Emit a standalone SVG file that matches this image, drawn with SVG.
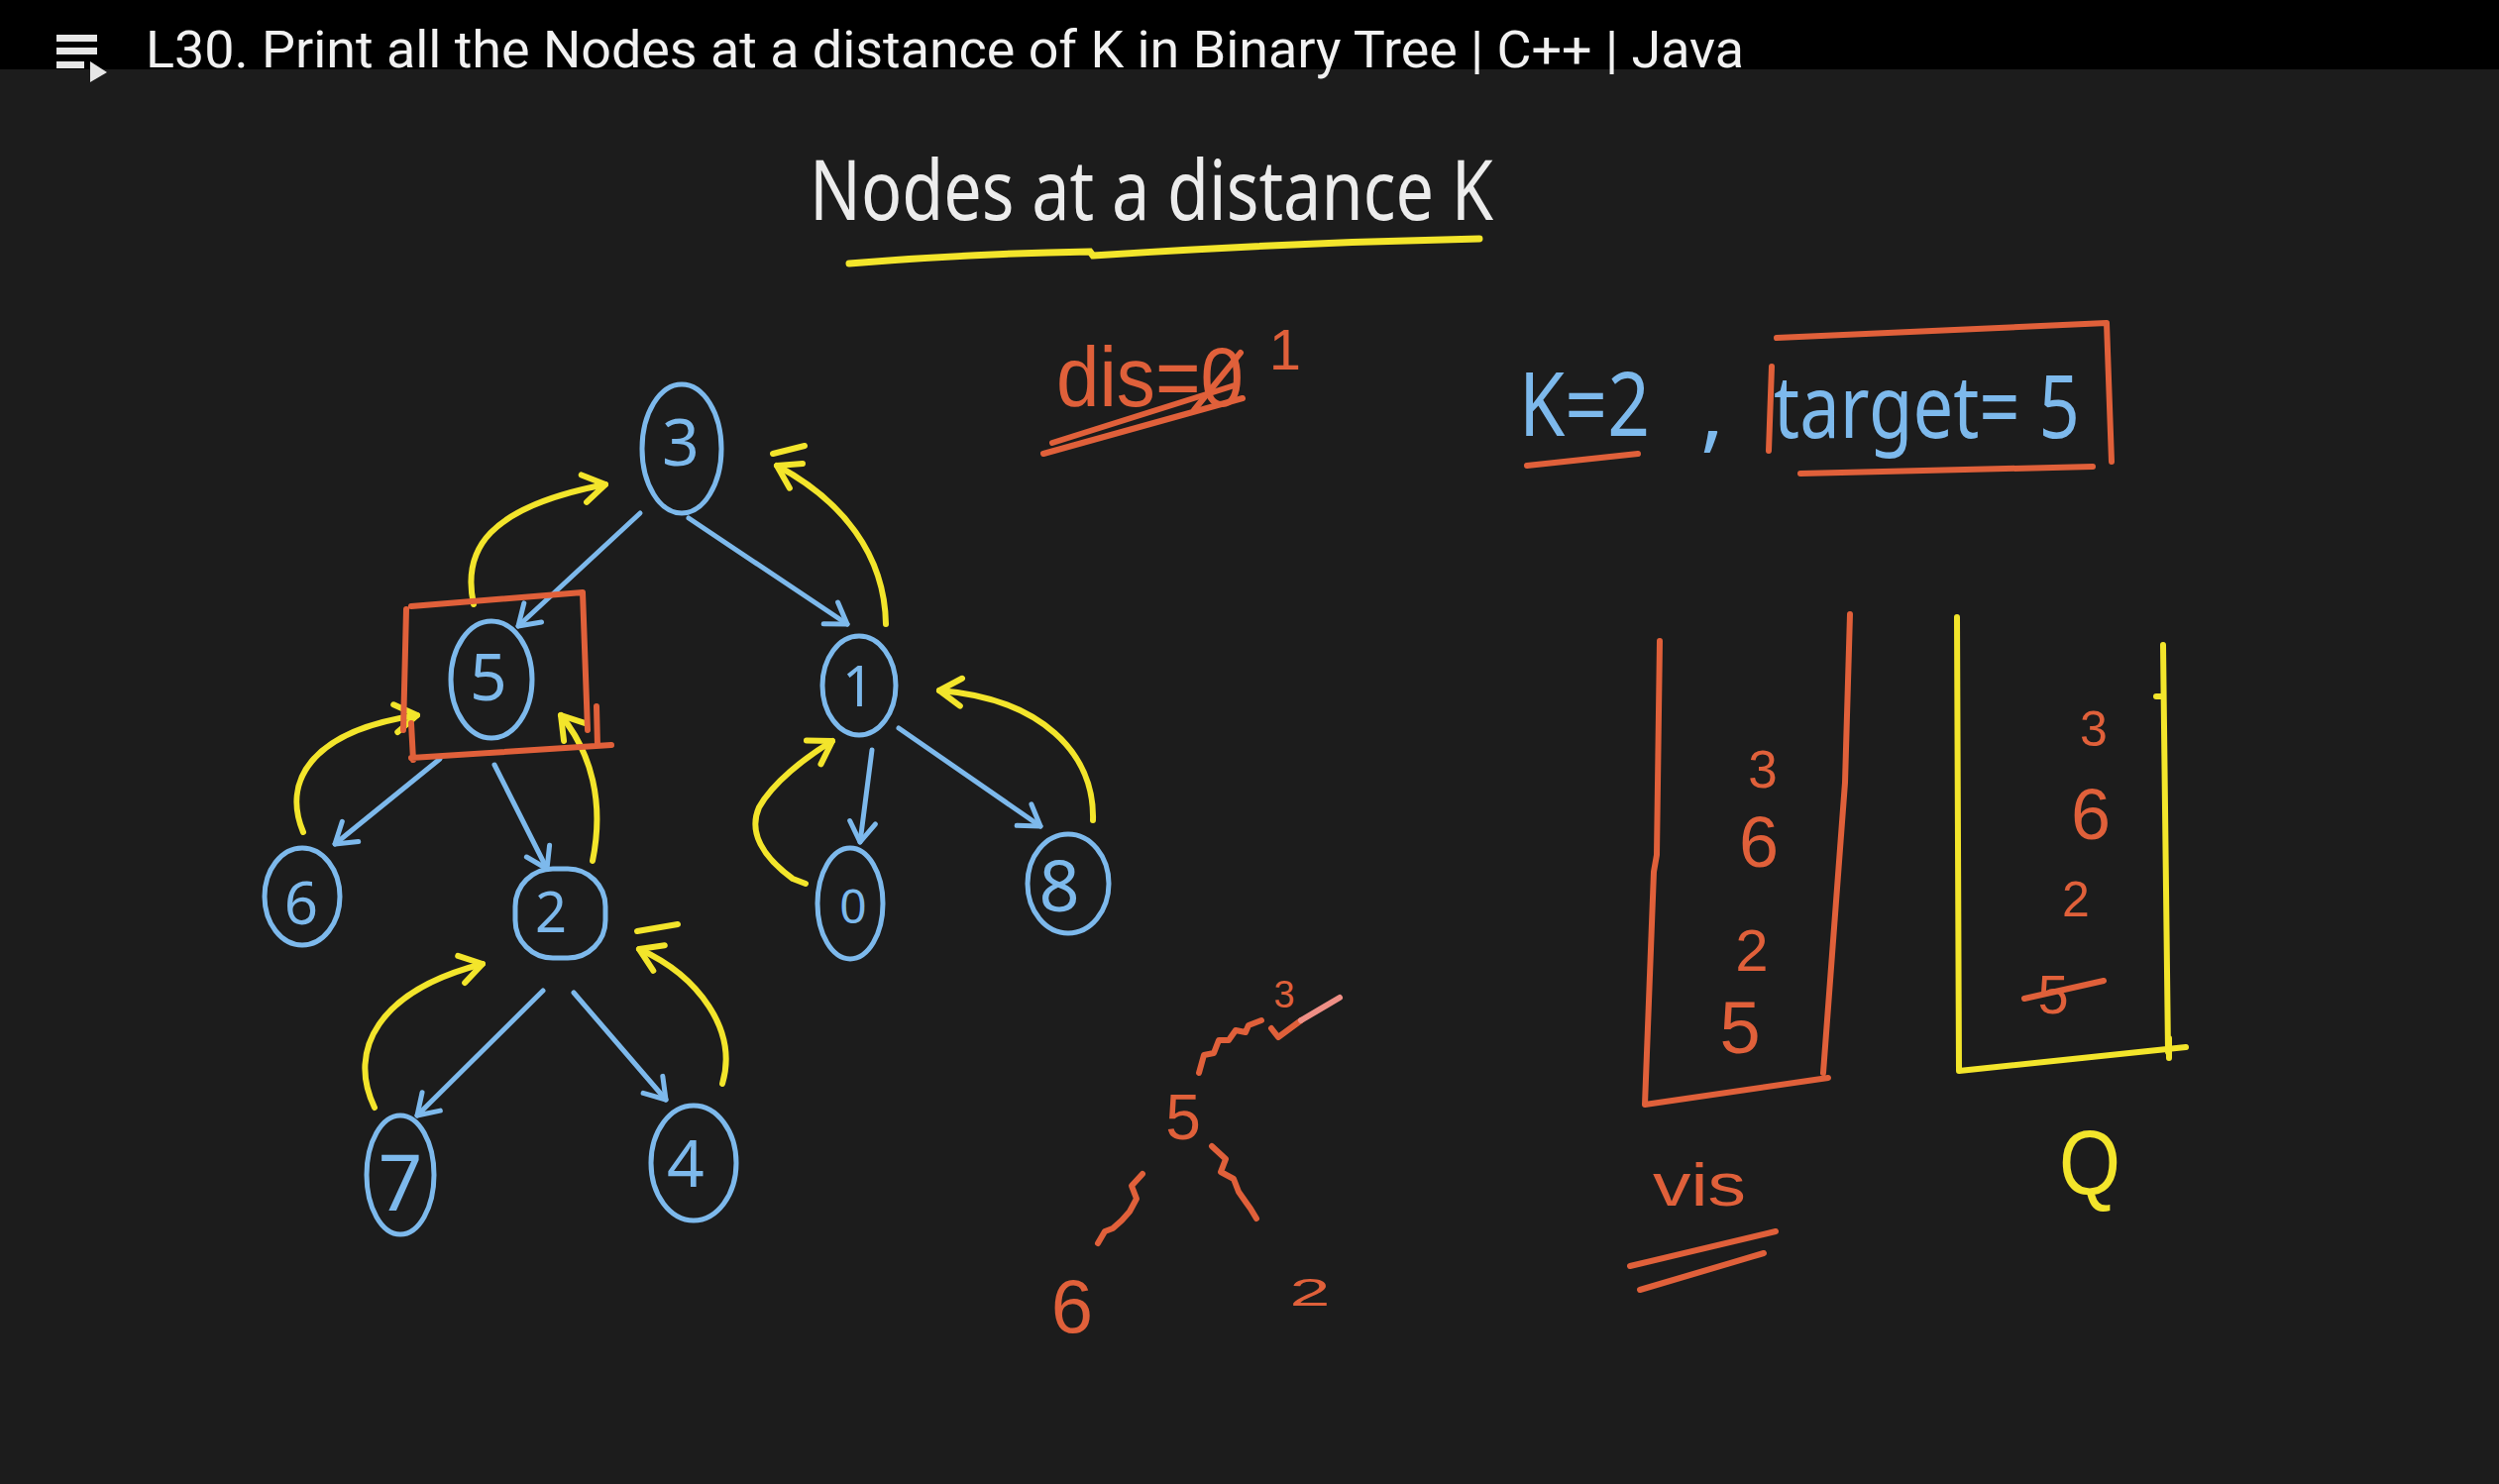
<svg xmlns="http://www.w3.org/2000/svg" width="2522" height="1498" viewBox="0 0 2522 1498">
<style>
.bl{stroke:#7db9ec;stroke-width:5;fill:none;stroke-linecap:round;stroke-linejoin:round}
.yl{stroke:#f3e52b;stroke-width:6;fill:none;stroke-linecap:round;stroke-linejoin:round}
.or{stroke:#e0603a;stroke-width:6;fill:none;stroke-linecap:round;stroke-linejoin:round}
.tb{fill:#7db9ec;font-family:"Noto Sans",sans-serif;text-anchor:middle}
.to{fill:#e0603a;font-family:"Liberation Sans",sans-serif}
.tw{fill:#ececec;font-family:"Noto Sans",sans-serif}
.ty{fill:#f3e52b;font-family:"Liberation Sans",sans-serif}
.mid{text-anchor:middle}
</style>
<defs>
<marker id="ab" viewBox="-30 -20 40 40" refX="0" refY="0" markerWidth="40" markerHeight="40" markerUnits="userSpaceOnUse" orient="auto" overflow="visible">
<path d="M-20,-13 L0,0 L-20,13" fill="none" stroke="#7db9ec" stroke-width="5" stroke-linecap="round" stroke-linejoin="round"/>
</marker>
<marker id="ay" viewBox="-30 -20 40 40" refX="0" refY="0" markerWidth="40" markerHeight="40" markerUnits="userSpaceOnUse" orient="auto" overflow="visible">
<path d="M-22,-14 L0,0 L-22,14" fill="none" stroke="#f3e52b" stroke-width="6" stroke-linecap="round" stroke-linejoin="round"/>
</marker>
</defs>
<rect x="0" y="0" width="2522" height="1498" fill="#1c1c1c"/>
<g id="header">
<rect x="0" y="0" width="2522" height="70" fill="#000"/>
<rect x="57" y="35" width="41" height="7" fill="#e6e6e6"/>
<rect x="57" y="48" width="41" height="7" fill="#e6e6e6"/>
<rect x="57" y="62" width="28" height="7" fill="#e6e6e6"/>
<polygon points="91,62 91,83 108,73" fill="#e6e6e6"/>
<text x="147" y="68" font-family="Roboto, 'Liberation Sans', sans-serif" font-size="51" fill="#f1f1f1" textLength="1613" lengthAdjust="spacingAndGlyphs">L30. Print all the Nodes at a distance of K in Binary Tree | C++ | Java</text>
</g>
<g id="title">
<text class="tw" x="817" y="222" font-size="84" textLength="690" lengthAdjust="spacingAndGlyphs">Nodes at a distance K</text>
<path d="M857,266 Q980,256 1100,254 L1103,258 Q1300,245 1493,241" stroke="#f3e52b" stroke-width="7" fill="none" stroke-linecap="round"/>
</g>
<g id="dis">
<text class="to" x="1066" y="410" font-size="86" textLength="189" lengthAdjust="spacingAndGlyphs">dis=0</text>
<path class="or" d="M1205,414 L1252,356"/>
<text class="to mid" x="1297" y="373" font-size="58">1</text>
<path class="or" d="M1053,458 L1254,402 M1062,447 L1246,389"/>
</g>
<g id="params">
<text class="tb" x="1599" y="440" font-size="90" textLength="132" lengthAdjust="spacingAndGlyphs">K=2</text>
<text class="tb" x="1728" y="445" font-size="90">,</text>
<text x="1790" y="442" font-size="88" fill="#7db9ec" font-family="'Noto Sans',sans-serif" textLength="309" lengthAdjust="spacingAndGlyphs">target= 5</text>
<path class="or" d="M1541,470 L1653,458"/>
<path class="or" d="M1793,341 L2126,326 L2131,466 M1788,370 L1785,455 M1817,478 L2112,471"/>
</g>
<g id="connectors">
<path class="bl" marker-end="url(#ab)" d="M646,518 L523,632"/>
<path class="bl" marker-end="url(#ab)" d="M695,523 L855,630"/>
<path class="bl" marker-end="url(#ab)" d="M444,766 L338,852"/>
<path class="bl" marker-end="url(#ab)" d="M499,772 L552,877"/>
<path class="bl" marker-end="url(#ab)" d="M880,757 L868,850"/>
<path class="bl" marker-end="url(#ab)" d="M907,735 L1050,834"/>
<path class="bl" marker-end="url(#ab)" d="M548,1000 L421,1126"/>
<path class="bl" marker-end="url(#ab)" d="M579,1002 L672,1110"/>
<path class="yl" marker-end="url(#ay)" d="M478,610 C466,555 492,512 611,489"/>
<path class="yl" marker-end="url(#ay)" d="M894,630 C893,560 850,505 784,470"/>
<path class="yl" marker-end="url(#ay)" d="M306,840 C285,790 312,738 421,722"/>
<path class="yl" marker-end="url(#ay)" d="M598,869 C610,810 597,760 566,722"/>
<path class="yl" marker-end="url(#ay)" d="M813,892 L800,887 C770,865 755,840 766,815 C780,790 812,765 840,748"/>
<path class="yl" marker-end="url(#ay)" d="M1103,828 C1105,760 1050,705 948,697"/>
<path class="yl" marker-end="url(#ay)" d="M378,1118 C350,1060 382,1000 487,973"/>
<path class="yl" marker-end="url(#ay)" d="M729,1094 C745,1040 705,985 645,958"/>
<path class="yl" d="M780,458 L812,450 M643,940 L684,933"/>
</g>
<g id="node-3"><ellipse class="bl" cx="688" cy="453" rx="40" ry="65"/><text class="tb" x="687" y="470" font-size="66">3</text></g>
<g id="node-5"><ellipse class="bl" cx="496" cy="686" rx="41" ry="59"/><text class="tb" x="493" y="707" font-size="66">5</text>
<path class="or" d="M415,612 L588,598 L593,737 M410,615 L407,737 M415,730 L417,767 M415,765 L617,752 M602,713 L603,753"/></g>
<g id="node-1"><ellipse class="bl" cx="867" cy="692" rx="37" ry="50"/><text class="tb" x="866" y="713" font-size="56">1</text></g>
<g id="node-6"><ellipse class="bl" cx="305" cy="905" rx="38" ry="49"/><text class="tb" x="304" y="933" font-size="60">6</text></g>
<g id="node-2"><rect class="bl" x="520" y="877" width="91" height="90" rx="38"/><text class="tb" x="556" y="941" font-size="56">2</text></g>
<g id="node-0"><ellipse class="bl" cx="858" cy="912" rx="33" ry="56"/><text class="tb" x="861" y="932" font-size="48">0</text></g>
<g id="node-8"><ellipse class="bl" cx="1078" cy="892" rx="41" ry="50"/><text class="tb" x="1069" y="920" font-size="72">8</text></g>
<g id="node-7"><ellipse class="bl" cx="404" cy="1186" rx="34" ry="60"/><text class="tb" x="404" y="1222" font-size="78">7</text></g>
<g id="node-4"><ellipse class="bl" cx="700" cy="1174" rx="43" ry="58"/><text class="tb" x="692" y="1198" font-size="66">4</text></g>
<g id="path-sketch">
<text class="to mid" x="1296" y="1017" font-size="38">3</text>
<path class="or" d="M1283,1038 L1290,1047 L1313,1030"/>
<path d="M1313,1030 L1352,1007" stroke="#ef8f86" stroke-width="6" stroke-linecap="round" fill="none"/>
<path class="or" d="M1273,1030 L1260,1035 L1257,1042 L1247,1040 L1240,1050 L1230,1050 L1225,1063 L1215,1065 L1210,1083"/>
<text class="to mid" x="1194" y="1150" font-size="64">5</text>
<path class="or" d="M1153,1185 L1142,1197 L1147,1210 L1140,1223 L1132,1232 L1123,1240 L1115,1243 L1108,1255"/>
<path class="or" d="M1223,1157 L1237,1170 L1232,1183 L1245,1190 L1250,1203 L1257,1213 L1262,1220 L1268,1230"/>
<text class="to mid" x="1082" y="1345" font-size="76">6</text>
<text class="to mid" x="1322" y="1318" font-size="38" textLength="41" lengthAdjust="spacingAndGlyphs">2</text>
</g>
<g id="vis-stack">
<path class="or" d="M1675,647 L1672,863 L1669,880 L1660,1115 L1845,1088 M1867,620 L1862,790 L1840,1083"/>
<text class="to mid" x="1779" y="795" font-size="53">3</text>
<text class="to mid" x="1775" y="875" font-size="72">6</text>
<text class="to mid" x="1768" y="980" font-size="60">2</text>
<text class="to mid" x="1756" y="1063" font-size="74">5</text>
<text class="to" x="1668" y="1217" font-size="62" textLength="94" lengthAdjust="spacingAndGlyphs">vis</text>
<path class="or" d="M1645,1278 L1792,1243 M1655,1302 L1780,1265"/>
</g>
<g id="queue-stack">
<path class="yl" d="M1975,623 L1977,1081 L2206,1057 M2183,651 L2188,1062 M2176,703 L2183,703 M2189,1048 L2189,1068"/>
<text class="to mid" x="2113" y="753" font-size="50">3</text>
<text class="to mid" x="2110" y="847" font-size="72">6</text>
<text class="to mid" x="2095" y="925" font-size="50">2</text>
<text class="to mid" x="2072" y="1023" font-size="56">5</text>
<path class="or" d="M2043,1008 L2123,990"/>
<text class="ty mid" x="2109" y="1205" font-size="92" textLength="62" lengthAdjust="spacingAndGlyphs">Q</text>
</g>
</svg>
